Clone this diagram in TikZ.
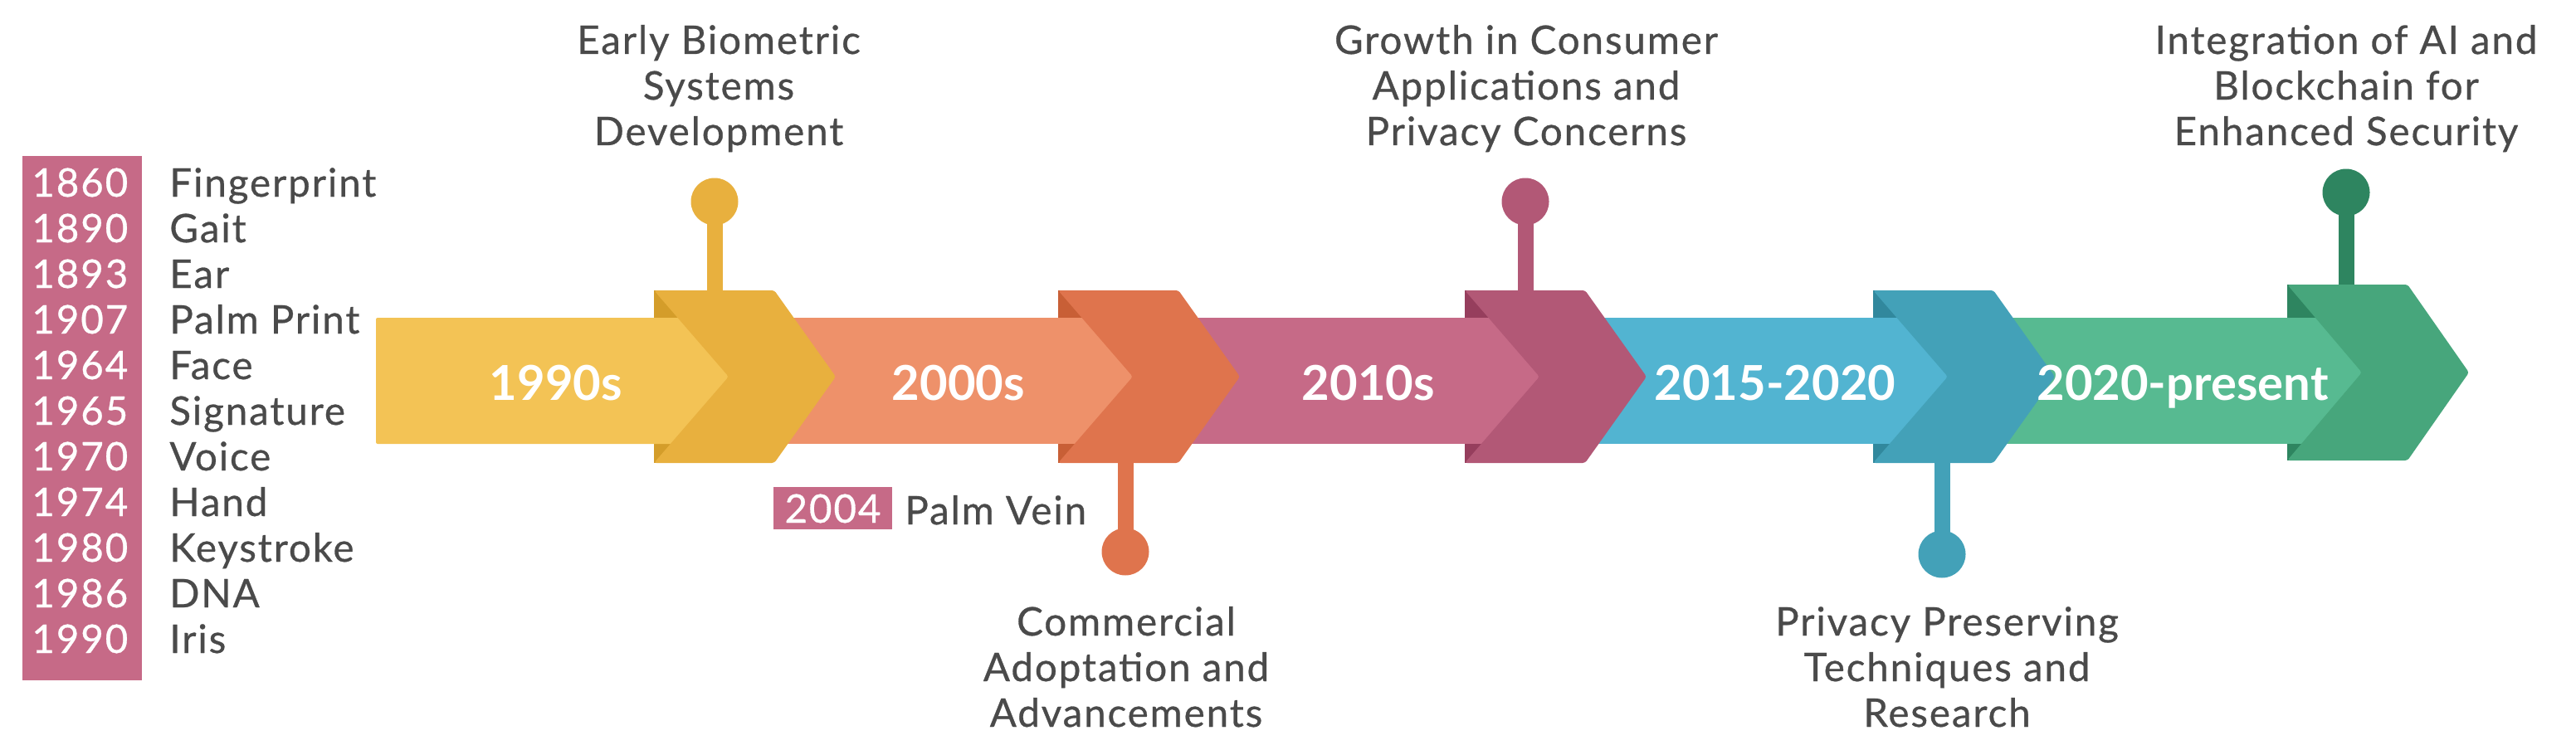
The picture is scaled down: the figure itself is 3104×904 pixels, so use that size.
\documentclass[tikz,border=0pt]{standalone}
\usepackage{fontspec}
\setmainfont{Lato}
\newfontfamily\lblfont[LetterSpace=4, FakeBold=0.6]{Lato}
\definecolor{yA}{HTML}{F3C355}
\definecolor{yB}{HTML}{E8B03E}
\definecolor{yC}{HTML}{D49D2A}
\definecolor{oA}{HTML}{EE916A}
\definecolor{oB}{HTML}{DF744D}
\definecolor{oC}{HTML}{C85F36}
\definecolor{pA}{HTML}{C66A87}
\definecolor{pB}{HTML}{B25876}
\definecolor{pC}{HTML}{963E5D}
\definecolor{bA}{HTML}{52B4D1}
\definecolor{bB}{HTML}{43A1B8}
\definecolor{bC}{HTML}{31889D}
\definecolor{gA}{HTML}{57BA91}
\definecolor{gB}{HTML}{47A67C}
\definecolor{gC}{HTML}{2E8560}
\definecolor{txt}{HTML}{4A4A4A}
\newcommand\chevshape[4]{% L, T, B, colour
  \fill[#4, rounded corners=1.5pt] (#1,#2) -- ({#1+145},#2) -- ({#1+219},{(#2+#3)/2}) -- ({#1+145},#3) -- (#1,#3) -- ({#1+90},{(#2+#3)/2}) -- cycle;}
\newcommand\chevshadow[4]{% L, T, B, colour
  \fill[#4] (#1,#2) rectangle ({#1+95},#3);}
\tikzset{
  lab/.style={font=\lblfont\fontsize{23.75}{27.5}\selectfont, text=txt, align=center, inner sep=0pt},
  era/.style={font=\fontsize{29}{34}\selectfont\bfseries, text=white, inner sep=0pt, anchor=base},
  dot/.style={circle, minimum size=28.5pt, inner sep=0pt},
  stem/.style={line width=9.5pt},
}
\begin{document}
\begin{tikzpicture}[x=0.5pt, y=-0.5pt]
\useasboundingbox (0,0) rectangle (3104,904);
% stems and dots
\coordinate (s1) at (861,352);
\coordinate (s2) at (1356,556);
\coordinate (s3) at (1838,352);
\coordinate (s4) at (2340,556);
\coordinate (s5) at (2827,345);
\node[dot, fill=yB] (d1) at (861,243) {};
\node[dot, fill=oB] (d2) at (1356,665) {};
\node[dot, fill=pB] (d3) at (1838,243) {};
\node[dot, fill=bB] (d4) at (2340,668) {};
\node[dot, fill=gC] (d5) at (2827,232) {};
\draw[stem, yB] (s1) -- (d1.center);
\draw[stem, oB] (s2) -- (d2.center);
\draw[stem, pB] (s3) -- (d3.center);
\draw[stem, bB] (s4) -- (d4.center);
\draw[stem, gC] (s5) -- (d5.center);
% shadows
\chevshadow{788}{350}{558}{yC}
\chevshadow{1275}{350}{558}{oC}
\chevshadow{1765}{350}{558}{pC}
\chevshadow{2257}{350}{558}{bC}
\chevshadow{2756}{343}{555}{gC}
% bands
\fill[yA, rounded corners=1pt] (453,383) rectangle (888,535);
\fill[oA] (888,383) rectangle (1375,535);
\fill[pA] (1375,383) rectangle (1865,535);
\fill[bA] (1865,383) rectangle (2357,535);
\fill[gA] (2357,383) rectangle (2856,535);
% chevrons
\chevshape{788}{350}{558}{yB}
\chevshape{1275}{350}{558}{oB}
\chevshape{1765}{350}{558}{pB}
\chevshape{2257}{350}{558}{bB}
\chevshape{2756}{343}{555}{gB}
% era labels
\node[era] (e1) at (670,482) {1990s};
\node[era] (e2) at (1155,482) {2000s};
\node[era] (e3) at (1649,482) {2010s};
\node[era] (e4) at (2139,482) {2015-2020};
\node[era] (e5) at (2630,482) {2020-present};
% milestone labels (anchor base = last line's baseline)
\node[lab, anchor=base] (t1) at (866,175) {Early Biometric\\Systems\\Development};
\node[lab, anchor=base] (t3) at (1839,175) {Growth in Consumer\\Applications and\\Privacy Concerns};
\node[lab, anchor=base] (t5) at (2827,175) {Integration of AI and\\Blockchain for\\Enhanced Security};
\node[lab, anchor=base] (t2) at (1357,876) {Commercial\\Adoptation and\\Advancements};
\node[lab, anchor=base] (t4) at (2346,876) {Privacy Preserving\\Techniques and\\Research};
% year list
\node[fill=pA, minimum width=72pt, minimum height=316pt, inner sep=0pt, anchor=north west] (yearbox) at (27,188) {};
\node[lab, text=white, align=left, anchor=base west] (years) at (38,787) {1860\\1890\\1893\\1907\\1964\\1965\\1970\\1974\\1980\\1986\\1990};
\node[lab, align=left, anchor=base west] (mods) at (204,787) {Fingerprint\\Gait\\Ear\\Palm Print\\Face\\Signature\\Voice\\Hand\\Keystroke\\DNA\\Iris};
% 2004 palm vein
\node[fill=pA, minimum width=71.5pt, minimum height=25.5pt, inner sep=0pt, text height=17.5pt, text depth=0pt, font=\lblfont\fontsize{23.75}{27.5}\selectfont, text=white] (y2004) at (1003.5,612.5) {2004};
\node[lab, anchor=base west] (palmvein) at (1090,632) {Palm Vein};
\end{tikzpicture}
\end{document}
